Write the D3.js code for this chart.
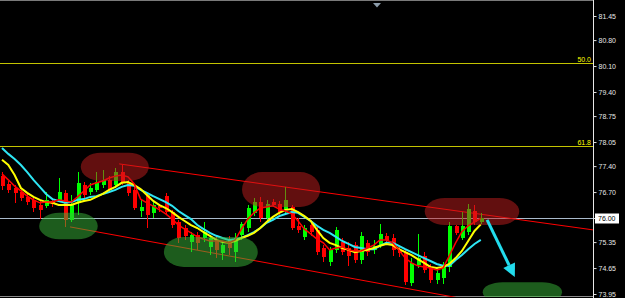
<!DOCTYPE html>
<html>
<head>
<meta charset="utf-8">
<script src="https://d3js.org/d3.v7.min.js"></script>
<style>
  html, body { margin: 0; padding: 0; background: #000; }
  svg { display: block; }
</style>
</head>
<body>
<div id="chart"></div>
<script>
// OHLC per bar
const opens  = [77.13,76.92,76.81,76.70,76.57,76.49,76.35,76.32,76.46,76.49,76.68,75.95,76.41,76.89,76.70,76.76,76.89,77.03,76.89,77.24,
                76.95,76.76,76.19,76.62,76.14,76.32,76.59,76.16,75.89,75.73,75.35,75.54,75.46,75.22,75.41,75.06,75.41,75.08,75.54,75.73,
                76.14,76.43,76.00,76.43,76.38,76.22,76.30,75.79,75.49,75.81,75.68,75.19,74.81,75.14,75.35,75.19,75.27,74.87,75.33,75.14,
                75.25,75.52,75.46,75.14,75.08,74.25,74.73,74.98,74.65,74.33,74.38,74.68,75.79,75.46,75.62,76.19,75.89];
const highs  = [77.24,77.00,76.89,76.76,76.65,76.59,76.46,76.70,76.54,77.08,76.76,76.62,77.24,76.97,76.95,77.24,77.30,77.13,77.35,77.43,
                77.03,76.84,76.49,76.68,76.49,76.38,76.68,76.22,75.95,75.81,75.62,75.62,75.89,75.54,75.52,75.35,75.52,75.60,75.89,76.35,
                76.54,76.57,76.49,76.51,76.46,76.84,76.35,76.00,75.81,75.89,75.76,75.27,75.22,75.76,75.46,75.35,75.35,75.62,75.41,75.41,
                75.84,75.60,75.57,75.22,75.16,74.92,75.57,75.08,74.76,74.65,74.81,75.89,75.81,76.16,76.38,76.35,76.14];
const lows   = [76.76,76.68,76.41,76.46,76.35,76.16,75.97,76.27,76.30,76.43,75.76,75.89,76.08,76.54,76.62,76.70,76.81,76.68,76.81,76.89,
                76.59,76.22,76.03,75.73,76.00,76.16,76.11,75.73,75.33,75.41,75.08,75.14,75.35,75.00,74.92,74.87,75.00,74.81,75.41,75.62,
                76.05,75.89,75.89,76.30,76.08,76.14,75.68,75.60,75.41,75.52,75.00,74.81,74.71,75.06,75.00,74.71,74.79,74.76,74.98,75.03,
                75.19,75.30,74.98,74.95,74.19,74.17,74.65,74.52,74.25,74.22,74.22,74.54,75.54,75.41,75.54,75.81,75.84];
const closes = [76.86,76.76,76.68,76.54,76.43,76.27,76.22,76.49,76.38,76.70,75.95,76.35,76.95,76.62,76.81,76.97,77.03,76.76,77.24,76.97,
                76.68,76.27,76.30,76.08,76.35,76.27,76.16,75.81,75.46,75.52,75.54,75.33,75.62,75.46,75.14,75.27,75.19,75.46,75.84,76.27,
                76.43,76.00,76.38,76.35,76.16,76.49,75.73,75.68,75.73,75.62,75.08,74.95,75.14,75.68,75.08,74.98,74.87,75.52,75.08,75.25,
                75.57,75.41,75.14,75.06,74.27,74.79,74.92,74.60,74.33,74.52,74.73,75.79,75.60,75.79,76.24,75.89,76.00];

// moving averages (red = fast, yellow = medium, cyan = slow)
const maRed    = [77.19,77.03,76.86,76.73,76.59,76.49,76.41,76.43,76.43,76.49,76.46,76.43,76.57,76.73,76.89,76.95,77.00,77.08,77.13,77.16,
                  77.11,76.92,76.51,76.41,76.32,76.22,76.11,75.97,75.81,75.70,75.60,75.49,75.43,75.38,75.38,75.38,75.33,75.41,75.70,75.97,
                  76.14,76.27,76.30,76.33,76.24,76.19,76.11,75.92,75.70,75.57,75.43,75.33,75.14,75.19,75.22,75.14,75.11,75.11,75.19,75.27,
                  75.41,75.41,75.33,75.14,74.92,74.79,74.71,74.68,74.65,74.60,74.65,74.98,75.33,75.63,75.79,75.89,76.00];
const maYellow = [77.57,77.43,77.16,76.81,76.68,76.57,76.49,76.43,76.41,76.35,76.35,76.35,76.41,76.46,76.49,76.57,76.65,76.76,76.84,76.95,
                  76.97,76.89,76.78,76.62,76.46,76.35,76.27,76.16,76.03,75.92,75.81,75.73,75.62,75.52,75.41,75.35,75.33,75.38,75.46,75.52,
                  75.60,75.73,75.89,76.03,76.14,76.22,76.24,76.16,76.05,75.92,75.68,75.46,75.33,75.27,75.19,75.14,75.08,75.11,75.14,75.19,
                  75.25,75.30,75.27,75.16,75.08,75.00,74.89,74.79,74.68,74.65,74.68,74.76,74.92,75.11,75.38,75.65,75.83];
const maCyan   = [77.89,77.73,77.59,77.43,77.24,77.03,76.84,76.65,76.51,76.46,76.41,76.43,76.49,76.51,76.57,76.59,76.65,76.70,76.76,76.84,
                  76.89,76.87,76.76,76.68,76.59,76.51,76.43,76.33,76.19,76.08,75.97,75.81,75.70,75.60,75.52,75.46,75.41,75.43,75.46,75.54,
                  75.62,75.73,75.87,75.95,76.05,76.11,76.16,76.14,76.03,75.92,75.79,75.68,75.60,75.49,75.38,75.30,75.22,75.19,75.16,75.16,
                  75.25,75.33,75.33,75.25,75.16,75.08,75.00,74.92,74.84,74.76,74.71,74.71,74.87,75.00,75.16,75.30,75.41];

const priceTicks = [81.45, 80.80, 80.10, 79.40, 78.75, 78.05, 77.40, 76.70, 76.00, 75.35, 74.65, 73.95];
const fibLabels = ["50.0", "61.8"];
const fibPrices = [80.18, 77.94];
const markedPrice = 76.00;

// drawn objects, in [bar index, price]
const channelUpper = [[18.6, 77.46], [93.8, 75.68]];
const channelLower = [[10.8, 75.76], [100, 72.99]];
const redZones   = [[12.5, 23.3, 77.76, 77.00], [38.1, 50.5, 77.24, 76.30], [67.1, 82.1, 76.54, 75.81]];
const greenZones = [[5.9, 15.2, 76.14, 75.43], [25.7, 40.6, 75.49, 74.68], [76.3, 88.9, 74.27, 73.73]];
const arrowFrom = [77.0, 75.95];
const arrowTo = [81.4, 74.41];

const W = 625, H = 298;
const PLOT_RIGHT = 593, PLOT_BOTTOM = 297;

const svg = d3.select("#chart").append("svg")
    .attr("width", W)
    .attr("height", H)
    .style("background", "#000")
    .style("font-family", "'Liberation Sans', Arial, sans-serif");

svg.append("defs").append("clipPath").attr("id", "plot")
    .append("rect").attr("x", 0).attr("y", 0).attr("width", PLOT_RIGHT).attr("height", PLOT_BOTTOM);

// Scales
const x = d3.scaleLinear().domain([0, 93.81]).range([2, PLOT_RIGHT]);
const y = d3.scaleLinear().domain([73.95, 81.45]).range([294, 16]);

const plot = svg.append("g").attr("clip-path", "url(#plot)");

// frame lines
plot.append("line").attr("x1", 0).attr("x2", PLOT_RIGHT).attr("y1", 0.5).attr("y2", 0.5)
    .attr("stroke", "#7a7a7a");
plot.append("line").attr("x1", 0).attr("x2", PLOT_RIGHT).attr("y1", 296.5).attr("y2", 296.5)
    .attr("stroke", "#8a8a8a");
plot.append("path").attr("d", "M373,3L381,3L377,7.5Z").attr("fill", "#8c9caa");

// Fibonacci levels
fibPrices.forEach((p, i) => {
    const yy = Math.round(y(p)) + 0.5;
    plot.append("line").attr("x1", 0).attr("x2", PLOT_RIGHT).attr("y1", yy).attr("y2", yy)
        .attr("stroke", "#c4c400");
    plot.append("text").attr("x", 591).attr("y", yy - 2)
        .attr("text-anchor", "end").attr("fill", "#ffff00").attr("font-size", 7)
        .text(fibLabels[i]);
});

// marked price line
const yMark = Math.round(y(markedPrice)) + 0.5;
plot.append("line").attr("x1", 0).attr("x2", PLOT_RIGHT).attr("y1", yMark).attr("y2", yMark)
    .attr("stroke", "#a9bacb");

// channel
[channelUpper, channelLower].forEach(c => {
    plot.append("line")
        .attr("x1", x(c[0][0])).attr("y1", y(c[0][1]))
        .attr("x2", x(c[1][0])).attr("y2", y(c[1][1]))
        .attr("stroke", "#ff0000").attr("stroke-width", 1);
});

// Candles
const candles = plot.append("g").attr("shape-rendering", "crispEdges");
closes.forEach((c, i) => {
    const o = opens[i];
    const col = c >= o ? "#00ff00" : "#ff0000";
    const cx = Math.round(x(i));
    candles.append("rect")
        .attr("x", cx).attr("width", 1)
        .attr("y", y(highs[i])).attr("height", y(lows[i]) - y(highs[i]))
        .attr("fill", col);
    const top = y(Math.max(o, c)), bot = y(Math.min(o, c));
    candles.append("rect")
        .attr("x", cx - 1.5).attr("width", 4)
        .attr("y", top).attr("height", Math.max(1, bot - top))
        .attr("fill", col);
});

// Moving averages
const maLine = d3.line().x((d, i) => x(i)).y(d => y(d));
[[maCyan, "#2ee6f4", 2], [maYellow, "#ffff00", 2], [maRed, "#ff0000", 1.5]].forEach(([data, col, w]) => {
    plot.append("path").datum(data)
        .attr("d", maLine)
        .attr("fill", "none").attr("stroke", col).attr("stroke-width", w);
});

// zones
function zone(z, col) {
    const x0 = x(z[0]), x1 = x(z[1]), y0 = y(z[2]), y1 = y(z[3]);
    plot.append("rect")
        .attr("x", x0).attr("y", y0)
        .attr("width", x1 - x0).attr("height", y1 - y0)
        .attr("rx", 20).attr("ry", (y1 - y0) / 2)
        .attr("fill", col).attr("fill-opacity", 0.5);
}
redZones.forEach(z => zone(z, "#c41e1e"));
greenZones.forEach(z => zone(z, "#3ab83a"));

// arrow
const ax0 = x(arrowFrom[0]), ay0 = y(arrowFrom[1]);
const ax1 = x(arrowTo[0]), ay1 = y(arrowTo[1]);
const ang = Math.atan2(ay1 - ay0, ax1 - ax0);
const headLen = 13, headW = 6.5;
const bx = ax1 - headLen * Math.cos(ang), by = ay1 - headLen * Math.sin(ang);
plot.append("line")
    .attr("x1", ax0).attr("y1", ay0).attr("x2", bx).attr("y2", by)
    .attr("stroke", "#22dced").attr("stroke-width", 3);
plot.append("path")
    .attr("d", `M${ax1},${ay1}L${bx + headW * Math.sin(ang)},${by - headW * Math.cos(ang)}L${bx - headW * Math.sin(ang)},${by + headW * Math.cos(ang)}Z`)
    .attr("fill", "#22dced");

// right price axis
svg.append("line").attr("x1", PLOT_RIGHT + 0.5).attr("x2", PLOT_RIGHT + 0.5)
    .attr("y1", 0).attr("y2", H).attr("stroke", "#e8e8e8");

const axis = svg.append("g")
    .attr("transform", `translate(${PLOT_RIGHT + 0.5},0)`)
    .call(d3.axisRight(y).tickValues(priceTicks).tickSize(3).tickPadding(2).tickFormat(d3.format(".2f")));
axis.select(".domain").remove();
axis.selectAll(".tick line").attr("stroke", "#e0e0e0");
axis.selectAll(".tick text").attr("fill", "#e6e6e6").attr("font-size", 7)
    .attr("font-family", "'Liberation Sans', Arial, sans-serif");

// marked price tag
const tag = svg.append("g").attr("transform", `translate(595,${yMark})`);
tag.append("rect").attr("x", 0).attr("y", -5).attr("width", 24).attr("height", 10).attr("fill", "#fff");
tag.append("text").attr("x", 3).attr("y", 2.5).attr("fill", "#000").attr("font-size", 7)
    .text(markedPrice.toFixed(2));
</script>
</body>
</html>
